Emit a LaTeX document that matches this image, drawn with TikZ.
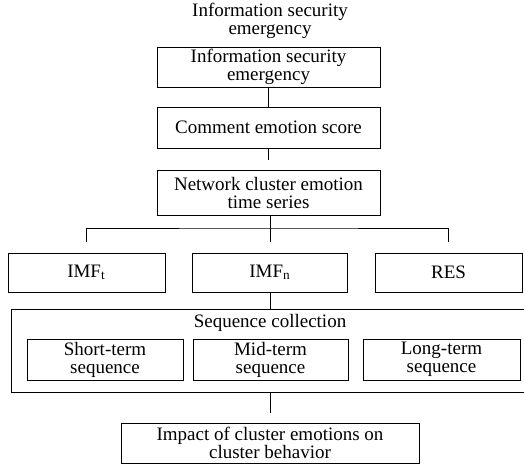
\documentclass[tikz,border=0pt]{standalone}
\usepackage{fontspec}
\setmainfont{Liberation Serif}
\usepackage{tikz}

\tikzset{
    box/.style={draw, line width=0.5pt, align=center, inner sep=0pt},
    link/.style={line width=0.5pt}
}

\begin{document}
\begin{tikzpicture}[x=0.5pt, y=-0.5pt, font=\fontsize{9.5}{9}\selectfont]
            \useasboundingbox (0,0) rectangle (524,467);

            \node (title) at (270,21) [align=center] {Information security\\emergency};

            \node (ise) at (268.5,67) [box, minimum width=111.5pt, minimum height=20pt] {Information security\\emergency};
            \node (ces) at (268.5,127.5) [box, minimum width=111.5pt, minimum height=20.5pt] {Comment emotion score};
            \node (ncets) at (268.5,192.5) [box, minimum width=111.5pt, minimum height=22.5pt] {Network cluster emotion\\time series};

            \foreach \n/\x/\w/\t in {imft/86.5/78.5/IMF\textsubscript{t}, imfn/270/77.5/IMF\textsubscript{n}, res/448.5/73.5/RES} {
                \node (\n) at (\x,272.5) [box, minimum width=\w pt, minimum height=19.5pt] {\t};
            }

            \node (seq) at (270.5,350.5) [box, minimum width=259.5pt, minimum height=41.5pt] {};
            \node (seqlabel) at (270,323) {Sequence collection};

            \foreach \n/\x/\w/\t in {short/105/78/Short-term, mid/270.5/77.5/Mid-term, long/441.5/78.5/Long-term} {
                \node (\n) at (\x,359.5) [box, minimum width=\w pt, minimum height=20.5pt] {\t\\sequence};
            }

            \node (impact) at (270,443) [box, minimum width=149pt, minimum height=20pt] {Impact of cluster emotions on\\cluster behavior};

            \coordinate (fork) at (270,228);

            \draw[link] (ise) -- (ces);
            \draw[link] (ces.south) -- ([yshift=5pt]ncets.north);
            \draw[link] (ncets.south -| fork) -- (fork);
            \draw[link] ([yshift=5.5pt]imft.north) |- (fork) -| ([yshift=5.5pt]res.north);
            \draw[link] (fork) -- ([yshift=5.5pt]imfn.north);
            \draw[link] (imfn.south) -- (imfn.south |- seq.north);
            \draw[link] (seq.south -| impact.north) -- ([yshift=5pt]impact.north);
        \end{tikzpicture}
\end{document}
